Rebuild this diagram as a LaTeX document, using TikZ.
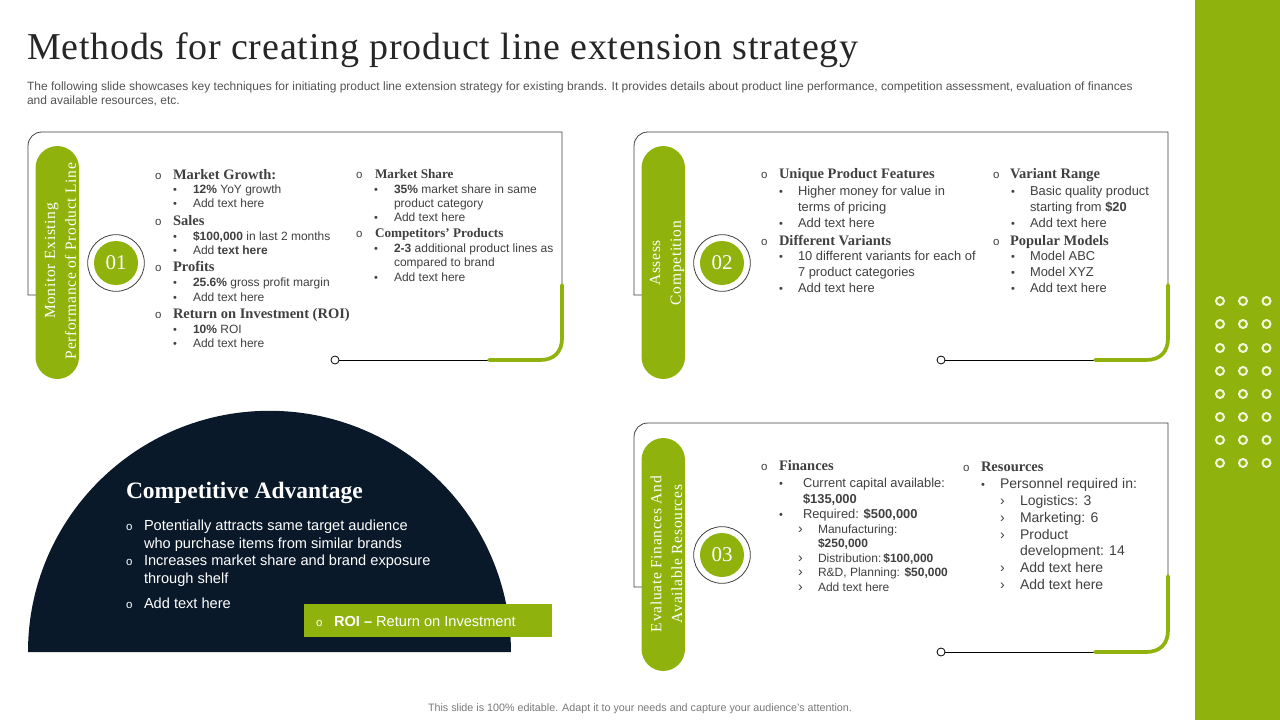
\documentclass[tikz,border=0pt]{standalone}
\usepackage{fontspec}
\setmainfont{Liberation Sans}
\newfontfamily\ser{Liberation Serif}
\newfontfamily\serw[LetterSpace=4.4]{Liberation Serif}
\newfontfamily\sert[LetterSpace=2.1]{Liberation Serif}
\definecolor{lime}{HTML}{8FB30C}
\definecolor{navy}{HTML}{0A1929}
\definecolor{ink}{HTML}{404040}
\definecolor{pale}{HTML}{F2F5DC}
\newcommand\px[1]{\fontsize{\dimexpr #1pt*3/4\relax}{\dimexpr #1pt*7/8\relax}\selectfont}
\newcommand\gap[3]{\makebox[\dimexpr #1pt*3/4\relax][l]{\normalfont\px{#2}#3}}
\newcommand\OB[1]{\gap{#1}{11.5}{o}}
\newcommand\DB[1]{\gap{#1}{11}{•}}
\newcommand\CB[1]{\gap{#1}{14}{›}}
\tikzset{
  base/.style={inner sep=0pt,outer sep=0pt,anchor=base west,text=ink},
  hd/.style={base,font=\ser\bfseries\px{14.5}},
  hds/.style={base,font=\ser\bfseries\px{13.2}},
  bd/.style={base,font=\px{12}},
  bdm/.style={base,font=\px{12.9}},
  bdl/.style={base,font=\px{14}},
  wt/.style={base,text=white,font=\px{14.6}},
  pillbox/.style={fill=lime,draw=none,rounded corners=16.5pt},
  pilltext/.style={inner sep=0pt,text=white,align=center,rotate=90,font=\serw\px{15.5}},
  numdisc/.style={circle,fill=lime,text=white,inner sep=0pt,minimum size=33pt,font=\ser\px{21}},
  numring/.style={circle,draw=ink,line width=.6pt,fill=white,inner sep=0pt,minimum size=42.5pt},
  endring/.style={circle,draw=black,line width=.6pt,fill=white,inner sep=0pt,minimum size=6pt},
  frameline/.style={draw=ink,line width=.6pt},
  limeline/.style={draw=lime,line width=2.8pt,line cap=round},
  stripdot/.style={circle,draw=pale,line width=1.5pt,inner sep=0pt,minimum size=6pt}
}
% #1 prefix, #2 left, #3 right, #4 top, #5 left-foot, #6 bottom, #7 lime start y, #8 pill top, #9 number
\newcommand\panel[9]{%
  \draw[frameline] (#2+18,#5) -- (#2,#5) -- (#2,#4+14) .. controls (#2,#4+6) and (#2+6,#4) .. (#2+14,#4) -- (#3,#4) -- (#3,#7);
  \coordinate (#1g1) at (#3,#7);
  \coordinate (#1g2) at (#3-73,#6);
  \node[endring] (#1end) at (#2+307,#6) {};
  \draw[line width=.6pt,black] (#1end) -- (#1g2);
  \draw[limeline] (#1g1) -- (#3,#6-22) .. controls (#3,#6-8) and (#3-8,#6) .. (#3-22,#6) -- (#1g2);
  \fill[pillbox] (#2+7.5,#8) rectangle (#2+51,#8+233);
  \node[numring] (#1ring) at (#2+88,#8+117) {};
  \node[numdisc] (#1num) at (#1ring) {#9};
}
\begin{document}
\begin{tikzpicture}[x=.75pt,y=-.75pt]
\useasboundingbox (0,0) rectangle (1280,720);
\fill[white] (0,0) rectangle (1280,720);
% right strip
\fill[lime] (1195,0) rectangle (1280,720);
\foreach \yy [count=\i] in {301,324,348,371,394,417,440,463}{
  \node[stripdot] (da\i) at (1220,\yy) {};
  \node[stripdot] (db\i) at (1243,\yy) {};
  \node[stripdot] (dc\i) at (1266.5,\yy) {};
}
% title
\node[base,text=black!85,font=\sert\px{38}] (title) at (27,60) {Methods for creating product line extension strategy};
\node[base,font=\px{12},text=ink!90] (introa) at (27,91) {The following slide showcases key techniques for initiating product line extension strategy for existing brands. It provides details about product line performance, competition assessment, evaluation of finances};
\node[base,font=\px{12},text=ink!90] (introb) at (27,105) {and available resources, etc.};
% panels
\panel{p}{28}{562}{132}{295}{360}{285}{146}{01}
\panel{q}{634}{1168}{132}{295}{360}{285}{146}{02}
\panel{r}{634}{1168}{423}{587}{652}{576}{438}{03}
\node[pilltext] (pa) at (60.5,261) {Monitor Existing\\[2pt]Performance of Product Line};
\node[pilltext] (qa) at (667,263) {Assess\\[2pt]Competition};
\node[pilltext] (ra) at (666.5,554) {Evaluate Finances And\\[2pt]Available Resources};
% panel 1, left column
\node[hd] (a1) at (155,179.5) {\OB{18}Market Growth:};
\node[bd] (a2) at (173,193.5) {\DB{20}\textbf{12\%} YoY growth};
\node[bd] (a3) at (173,208) {\DB{20}Add text here};
\node[hd] (a4) at (155,225) {\OB{18}Sales};
\node[bd] (a5) at (173,240) {\DB{20}\textbf{\$100,000} in last 2 months};
\node[bd] (a6) at (173,254) {\DB{20}Add \textbf{text here}};
\node[hd] (a7) at (155,271) {\OB{18}Profits};
\node[bd] (a8) at (173,286) {\DB{20}\textbf{25.6\%} gross profit margin};
\node[bd] (a9) at (173,301) {\DB{20}Add text here};
\node[hd] (a10) at (155,318) {\OB{18}Return on Investment (ROI)};
\node[bd] (a11) at (173,333) {\DB{20}\textbf{10\%} ROI};
\node[bd] (a12) at (173,347) {\DB{20}Add text here};
% panel 1, right column
\node[hds] (b1) at (356,179) {\OB{19}Market Share};
\node[bd] (b2) at (374,194) {\DB{20}\textbf{35\%} market share in same};
\node[bd] (b3) at (394,207.5) {product category};
\node[bd] (b4) at (374,221.5) {\DB{20}Add text here};
\node[hds] (b5) at (356,238) {\OB{19}Competitors’ Products};
\node[bd] (b6) at (374,252.5) {\DB{20}\textbf{2-3} additional product lines as};
\node[bd] (b7) at (394,266) {compared to brand};
\node[bd] (b8) at (374,281) {\DB{20}Add text here};
% panel 2, left column
\node[hd] (c1) at (761,179) {\OB{18}Unique Product Features};
\node[bdm] (c2) at (779,195.5) {\DB{19}Higher money for value in};
\node[bdm] (c3) at (798,211.5) {terms of pricing};
\node[bdm] (c4) at (779,227.5) {\DB{19}Add text here};
\node[hd] (c5) at (761,245) {\OB{18}Different Variants};
\node[bdm] (c6) at (779,260.5) {\DB{19}10 different variants for each of};
\node[bdm] (c7) at (798,276.5) {7 product categories};
\node[bdm] (c8) at (779,292) {\DB{19}Add text here};
% panel 2, right column
\node[hd] (d1) at (993,179) {\OB{17}Variant Range};
\node[bdm] (d2) at (1011,195.5) {\DB{19}Basic quality product};
\node[bdm] (d3) at (1030,211.5) {starting from \textbf{\$20}};
\node[bdm] (d4) at (1011,227.5) {\DB{19}Add text here};
\node[hd] (d5) at (993,245) {\OB{17}Popular Models};
\node[bdm] (d6) at (1011,260.5) {\DB{19}Model ABC};
\node[bdm] (d7) at (1011,276.5) {\DB{19}Model XYZ};
\node[bdm] (d8) at (1011,292) {\DB{19}Add text here};
% panel 3, left column
\node[hd] (e1) at (761,470) {\OB{18}Finances};
\node[bdm] (e2) at (779,487) {\DB{24}Current capital available:};
\node[bdm] (e3) at (803,503) {\textbf{\$135,000}};
\node[bdm] (e4) at (779,518.5) {\DB{24}Required: \textbf{\$500,000}};
\node[bd] (e5) at (798,533) {\CB{20}Manufacturing:};
\node[bd] (e6) at (818,547) {\textbf{\$250,000}};
\node[bd] (e7) at (798,562) {\CB{20}Distribution:\textbf{\,\$100,000}};
\node[bd] (e8) at (798,576) {\CB{20}R\&D, Planning: \textbf{\$50,000}};
\node[bd] (e9) at (798,591) {\CB{20}Add text here};
% panel 3, right column
\node[hd] (f1) at (963,471) {\OB{18}Resources};
\node[bdl] (f2) at (981,488) {\DB{19}Personnel required in:};
\node[bdl] (f3) at (1000,505) {\CB{20}Logistics: 3};
\node[bdl] (f4) at (1000,522) {\CB{20}Marketing: 6};
\node[bdl] (f5) at (1000,539) {\CB{20}Product};
\node[bdl] (f6) at (1020,555) {development: 14};
\node[bdl] (f7) at (1000,572) {\CB{20}Add text here};
\node[bdl] (f8) at (1000,589) {\CB{20}Add text here};
% competitive advantage
\fill[navy] (28,652) arc[start angle=180,end angle=0,x radius=181.1pt,y radius=180.9pt] -- cycle;
\node[base,text=white,font=\ser\bfseries\px{23.5}] (g0) at (126,498) {Competitive Advantage};
\node[wt] (g1) at (126,530) {\OB{18}Potentially attracts same target audience};
\node[wt] (g2) at (144,548) {who purchase items from similar brands};
\node[wt] (g3) at (126,565) {\OB{18}Increases market share and brand exposure};
\node[wt] (g4) at (144,583) {through shelf};
\node[wt] (g5) at (126,608) {\OB{18}Add text here};
\fill[lime] (304,604) rectangle (552,637);
\node[wt] (g6) at (316,626) {\OB{18}\textbf{ROI –} Return on Investment};
% footer
\node[base,font=\px{10.75},text=ink!70] (foot) at (428,711.5) {This slide is 100\% editable. Adapt it to your needs and capture your audience's attention.};
\end{tikzpicture}
\end{document}
